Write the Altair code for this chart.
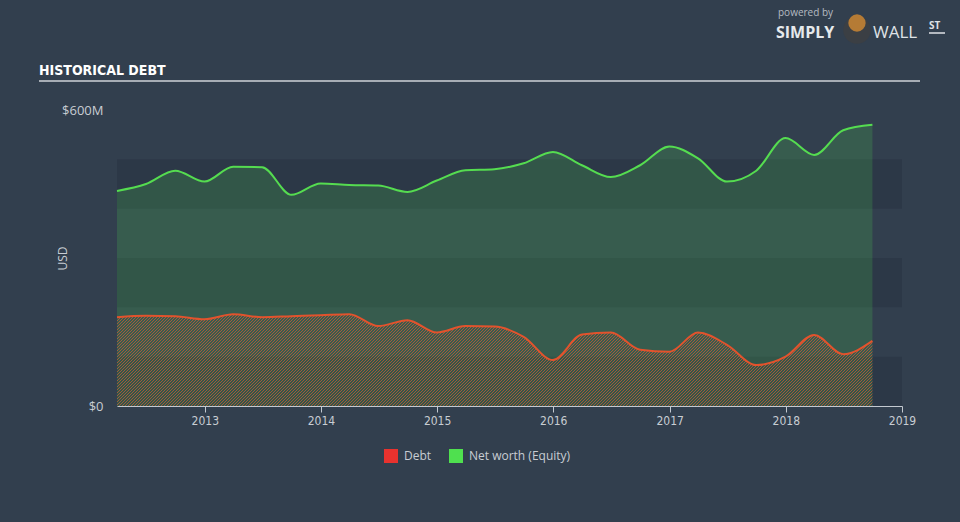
import altair as alt
import pandas as pd
import numpy as np

# ---------------- data ----------------
quarters = [
    "2012-03-31", "2012-06-30", "2012-09-30", "2012-12-31",
    "2013-03-31", "2013-06-30", "2013-09-30", "2013-12-31",
    "2014-03-31", "2014-06-30", "2014-09-30", "2014-12-31",
    "2015-03-31", "2015-06-30", "2015-09-30", "2015-12-31",
    "2016-03-31", "2016-06-30", "2016-09-30", "2016-12-31",
    "2017-03-31", "2017-06-30", "2017-09-30", "2017-12-31",
    "2018-03-31", "2018-06-30", "2018-09-30",
]
debt = [180, 183, 182, 176, 186, 180, 182, 184, 186, 162, 174, 149,
        162, 161, 140, 93, 145, 149, 114, 110, 149, 124, 83, 100,
        144, 105, 132]
equity = [436, 450, 477, 455, 485, 484, 428, 451, 448, 447, 434, 457,
          478, 480, 492, 515, 488, 464, 488, 526, 502, 455, 477, 543,
          509, 559, 570]
series_names = ["Debt", "Net worth (Equity)"]
series_colors = ["#e8322e", "#4fe04f"]
x_domain = ["2012-03-31", "2019-01-01"]
year_ticks = [2013, 2014, 2015, 2016, 2017, 2018, 2019]
y_ticks = [0, 600]
band_lows = [0, 200, 400]
band_highs = [100, 300, 500]
title_text = ["HISTORICAL DEBT"]
logo_small = ["powered by"]
logo_left = ["SIMPLY"]
logo_right = ["WALL"]
logo_sup = ["ST"]

# ---------------- layout / style ----------------
PLOT_W, PLOT_H = 785, 296
Y_MAX = 600
BG = "#323f4e"
AXIS_COLOR = "#c3c9d0"
LABEL_COLOR = "#c8cdd3"
NARROW = "Liberation Sans Narrow, DejaVu Sans Condensed, Arial Narrow, sans-serif"
ROUND = "Open Sans, Lato, sans-serif"

df = pd.DataFrame({"date": quarters, "debt": debt, "equity": equity})
long_df = pd.DataFrame({
    "date": quarters * 2,
    "value": debt + equity,
    "series": [series_names[0]] * len(quarters) + [series_names[1]] * len(quarters),
})
bands = pd.DataFrame({
    "x0": [x_domain[0]] * len(band_lows),
    "x1": [x_domain[1]] * len(band_lows),
    "lo": band_lows,
    "hi": band_highs,
})

x_scale = alt.Scale(
    type="utc",
    domain=[alt.DateTime(year=2012, month=3, date=31, utc=True),
            alt.DateTime(year=2019, month=1, date=1, utc=True)],
    nice=False,
)
y_scale = alt.Scale(domain=[0, Y_MAX], nice=False, zero=True)

x_axis = alt.Axis(
    values=[alt.DateTime(year=y, month=1, date=1, utc=True) for y in year_ticks],
    labelExpr="utcFormat(datum.value, '%Y')",
    domain=True, domainColor=AXIS_COLOR, domainWidth=1,
    ticks=True, tickColor=AXIS_COLOR, tickSize=6,
    labelColor=LABEL_COLOR, labelFont=NARROW, labelFontSize=12,
    labelPadding=3, grid=False, title=None, labelFlush=False,
)
y_axis = alt.Axis(
    values=y_ticks,
    labelExpr="datum.value == 0 ? '$0' : '$' + datum.value + 'M'",
    domain=False, ticks=False, grid=False,
    labelColor=LABEL_COLOR, labelFont=ROUND, labelFontSize=13,
    labelPadding=14,
    title="USD", titleColor=LABEL_COLOR, titleFont=ROUND, titleFontSize=12,
    titleFontWeight="normal", titleX=-55, titleY=148, titleAngle=270,
    titleAlign="center", titleBaseline="middle",
)

x_enc = alt.X("date:T", scale=x_scale, axis=x_axis)

# ---------- background bands ----------
band_layer = alt.Chart(bands).mark_rect(color="#2b3745", opacity=0.75).encode(
    x=alt.X("x0:T", scale=x_scale, axis=x_axis),
    x2="x1:T",
    y=alt.Y("lo:Q", scale=y_scale, axis=y_axis),
    y2="hi:Q",
)

# ---------- equity area ----------
equity_area = alt.Chart(df).mark_area(
    interpolate="monotone", color="#4cd44e", opacity=0.2
).encode(x=x_enc, y=alt.Y("equity:Q", scale=y_scale, axis=y_axis))

# ---------- debt hatched area (striped gradient) ----------
days_data = (pd.Timestamp(quarters[-1]) - pd.Timestamp(quarters[0])).days
days_dom = (pd.Timestamp(x_domain[1]) - pd.Timestamp(x_domain[0])).days
W = PLOT_W * days_data / days_dom
H = PLOT_H * max(debt) / Y_MAX
k = (W + H) * W / (W ** 2 + H ** 2)
period = 3.0 / (W + H)
stripe = "#cf5a35"
clear = "rgba(0,0,0,0)"
stops = []
n = int(1.0 / period) + 1
for i in range(n):
    a = i * period
    b = min(a + period * 0.5, 1.0)
    c = min(a + period, 1.0)
    if a > 1.0:
        break
    stops.append(alt.GradientStop(offset=round(a, 6), color=stripe))
    stops.append(alt.GradientStop(offset=round(b, 6), color=stripe))
    stops.append(alt.GradientStop(offset=round(b, 6), color=clear))
    stops.append(alt.GradientStop(offset=round(c, 6), color=clear))

hatch = alt.LinearGradient(
    gradient="linear", stops=stops,
    x1=0, y1=0, x2=round(k, 6), y2=round(k * H / W, 6),
)
debt_area = alt.Chart(df).mark_area(
    interpolate="monotone", color=hatch, opacity=0.72
).encode(x=x_enc, y=alt.Y("debt:Q", scale=y_scale, axis=y_axis))

# ---------- lines ----------
equity_line = alt.Chart(df).mark_line(
    interpolate="monotone", color="#55dc50", strokeWidth=2
).encode(x=x_enc, y=alt.Y("equity:Q", scale=y_scale, axis=y_axis))
debt_line = alt.Chart(df).mark_line(
    interpolate="monotone", color="#e2532d", strokeWidth=2
).encode(x=x_enc, y=alt.Y("debt:Q", scale=y_scale, axis=y_axis))

# ---------- legend (invisible marks carrying the color scale) ----------
legend_layer = alt.Chart(long_df).mark_square(opacity=0).encode(
    x=x_enc,
    y=alt.Y("value:Q", scale=y_scale, axis=y_axis),
    color=alt.Color(
        "series:N",
        scale=alt.Scale(domain=series_names, range=series_colors),
        legend=alt.Legend(
            orient="none", legendX=267, legendY=339, direction="horizontal",
            title=None, symbolType="square", symbolSize=196,
            symbolOpacity=1, symbolStrokeWidth=0,
            labelColor=LABEL_COLOR, labelFont=ROUND, labelFontSize=12,
            labelOffset=6, columnPadding=17, padding=0,
        ),
    ),
)

# ---------- title, underline, logo ----------
title_layer = alt.Chart(pd.DataFrame({"t": title_text})).mark_text(
    align="left", baseline="alphabetic", font=NARROW, fontSize=14,
    fontWeight="bold", color="#ffffff",
).encode(x=alt.value(-78), y=alt.value(-35), text="t:N")

underline = alt.Chart(pd.DataFrame({"t": title_text})).mark_rule(
    color="#a7adb5", strokeWidth=2
).encode(x=alt.value(-78), x2=alt.value(803), y=alt.value(-29))

logo_small_layer = alt.Chart(pd.DataFrame({"t": logo_small})).mark_text(
    align="left", baseline="middle", font=ROUND, fontSize=10, color="#b5bbc2",
).encode(x=alt.value(661), y=alt.value(-97), text="t:N")
logo_left_layer = alt.Chart(pd.DataFrame({"t": logo_left})).mark_text(
    align="left", baseline="middle", font=ROUND, fontSize=16, fontWeight="bold",
    color="#e6e9ec",
).encode(x=alt.value(659), y=alt.value(-77), text="t:N")
logo_right_layer = alt.Chart(pd.DataFrame({"t": logo_right})).mark_text(
    align="left", baseline="middle", font=ROUND, fontSize=17, fontWeight="normal",
    color="#dfe2e6",
).encode(x=alt.value(756), y=alt.value(-77), text="t:N")
logo_sup_layer = alt.Chart(pd.DataFrame({"t": logo_sup})).mark_text(
    align="left", baseline="middle", font=ROUND, fontSize=10, fontWeight="bold",
    color="#dfe2e6",
).encode(x=alt.value(812), y=alt.value(-84), text="t:N")
logo_sup_rule = alt.Chart(pd.DataFrame({"t": logo_sup})).mark_rule(
    color="#dfe2e6", strokeWidth=1.5
).encode(x=alt.value(812), x2=alt.value(828), y=alt.value(-77))
bull_suit = alt.Chart(pd.DataFrame({"t": logo_sup})).mark_circle(
    color="#3b3f44", opacity=1, size=760
).encode(x=alt.value(740), y=alt.value(-80))
bull_head = alt.Chart(pd.DataFrame({"t": logo_sup})).mark_circle(
    color="#b57b35", opacity=1, size=300
).encode(x=alt.value(740), y=alt.value(-87))

chart = alt.layer(
    band_layer, equity_area, debt_area, equity_line, debt_line, legend_layer,
    title_layer, underline, logo_small_layer, logo_left_layer,
    logo_right_layer, logo_sup_layer, logo_sup_rule, bull_suit, bull_head,
).properties(
    width=PLOT_W, height=PLOT_H,
    background=BG,
    autosize=alt.AutoSizeParams(type="none"),
    padding={"left": 117, "top": 110, "right": 58, "bottom": 116},
).configure_view(stroke=None)

chart.save("out.html", embed_options={"renderer": "svg", "actions": False})
